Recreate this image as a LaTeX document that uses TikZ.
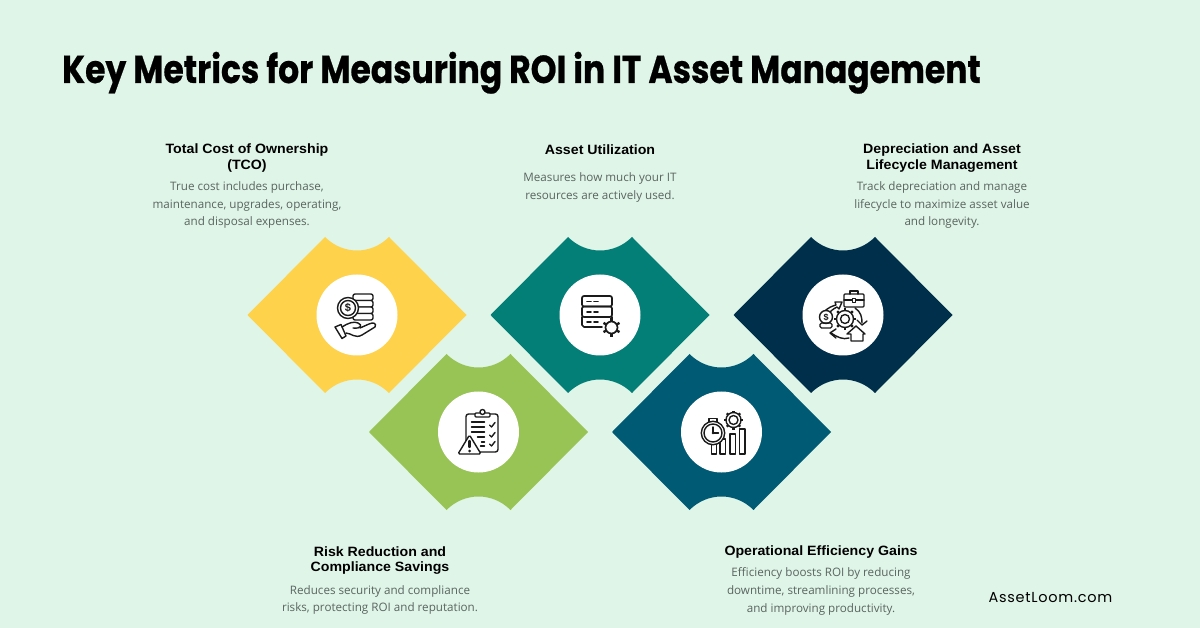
\documentclass[tikz,border=0pt]{standalone}
\usepackage{fontspec}
\setmainfont{Open Sans}
\newfontfamily\titlefont[FakeStretch=0.845,FakeBold=0.6]{Poppins}
\newfontfamily\headfont[FakeStretch=1.05]{Liberation Sans}
\newfontfamily\symfont{Liberation Sans}
\newfontfamily\logofont{Poppins}
\definecolor{bgc}{HTML}{DFF5E8}
\definecolor{ylw}{HTML}{FFD24C}
\definecolor{teal1}{HTML}{047F78}
\definecolor{navy}{HTML}{002F4B}
\definecolor{grn}{HTML}{98C455}
\definecolor{blu}{HTML}{005A73}
\definecolor{bodyc}{HTML}{5A6560}
\definecolor{ink}{HTML}{1A1A1A}
\tikzset{
 x=1pt,y=-1pt,
 heading/.style={font=\headfont\bfseries\fontsize{13.5}{15.2}\selectfont,align=center,text=black,inner sep=0pt},
 body/.style={font=\fontsize{11.65}{17.6}\selectfont,align=center,text=bodyc,inner sep=0pt},
 ic/.style={draw=ink,line width=1.4pt,line cap=round,line join=round,fill=none},
 icf/.style={draw=ink,line width=1.4pt,line cap=round,line join=round,fill=white},
}
\newcommand{\gem}[4]{% name, x, y, colour
 \fill[#4] (#2-109.5,#3) -- (#2-32,#3-78)
   .. controls (#2-14,#3-60) and (#2+14,#3-60) .. (#2+32,#3-78)
   -- (#2+109.5,#3) -- (#2+32,#3+78)
   .. controls (#2+14,#3+60) and (#2-14,#3+60) .. (#2-32,#3+78) -- cycle;
 \node[circle,fill=white,minimum size=81pt,inner sep=0pt] (#1) at (#2,#3) {};
}
\begin{document}
\begin{tikzpicture}
\useasboundingbox (0,0) rectangle (1200,628);
\fill[bgc] (0,0) rectangle (1200,628);
\node[anchor=base west,inner sep=0pt,text=black,font=\titlefont\bfseries\fontsize{39}{44}\selectfont] (title) at (62,83) {Key Metrics for Measuring ROI in IT Asset Management};
\gem{a}{357}{315}{ylw}
\gem{b}{600}{315}{teal1}
\gem{c}{843}{315}{navy}
\gem{d}{478.5}{432}{grn}
\gem{e}{721.5}{432}{blu}
% texts
\node[heading] (h1) at (247,158) {Total Cost of Ownership\\(TCO)};
\node[body] (t1) at (247,205) {True cost includes purchase,\\maintenance, upgrades, operating,\\and disposal expenses.};
\node[heading] (h2) at (600,150) {Asset Utilization};
\node[body] (t2) at (600,187.5) {Measures how much your IT\\resources are actively used.};
\node[heading] (h3) at (942,158) {Depreciation and Asset\\Lifecycle Management};
\node[body] (t3) at (942,205) {Track depreciation and manage\\lifecycle to maximize asset value\\and longevity.};
\node[heading] (h4) at (380,560.5) {Risk Reduction and\\Compliance Savings};
\node[body] (t4) at (380,600) {Reduces security and compliance\\risks, protecting ROI and reputation.};
\node[heading] (h5) at (821,552.5) {Operational Efficiency Gains};
\node[body] (t5) at (821,591.5) {Efficiency boosts ROI by reducing\\downtime, streamlining processes,\\and improving productivity.};
\node[inner sep=0pt,text=black,font=\logofont\fontsize{14.5}{17}\selectfont\addfontfeature{LetterSpace=5}] (logo) at (1050.5,598) {AssetLoom.com};
% icon a: coins + hand
\begin{scope}[shift={(357,315)}]
 \foreach \y in {-21,-14.5,-8,-1.5}{\draw[ic,fill=white,rounded corners=2pt] (-4,\y) -- (16,\y) -- (16,\y+6.5) -- (-4,\y+6.5) -- cycle;}
 \draw[icf] (-9,-7) circle (10.5);
 \draw[ic] (-9,-7) circle (7.5);
 \node[font=\symfont\bfseries\fontsize{11}{11}\selectfont,text=ink,inner sep=0pt] at (-9,-7) {\$};
 \draw[icf] (-22,12) -- (-16,9.5) -- (-11,21) -- (-15,23.5) -- cycle;
 \draw[ic] (-15,12) .. controls (-9,8) and (-3,6) .. (1,8) .. controls (6,10) and (4,14) .. (-4,13);
 \draw[ic] (-11,18) .. controls (-6,18) and (-2,24) .. (5,20) -- (18,12) .. controls (20,8) and (16,7) .. (12,9) -- (3,13);
\end{scope}
% icon b: server + gear
\begin{scope}[shift={(600,315)}]
 \draw[ic,line width=1.7pt,rounded corners=2pt] (-18,-19) rectangle (12,-8.5);
 \draw[ic,line width=1.7pt,rounded corners=2pt] (-18,-8.5) rectangle (12,2);
 \draw[ic,line width=1.7pt] (2,12) -- (-16,12) -- (-18,10) -- (-18,2);
 \foreach \y in {-13.5,-3,7}{\draw[ic,line width=1.7pt] (-13,\y) -- (-9,\y) (-6,\y) -- (-2,\y);}
 \draw[ic,line width=1.7pt] (12,2) -- (12,5);
 \draw[ic,line width=1.7pt] (11.5,12.5) circle (6);
 \foreach \a in {30,90,...,330}{\draw[ic,line width=2.4pt,line cap=butt] (11.5,12.5) ++(\a:6) -- ++(\a:3.2);}
\end{scope}
% icon c: lifecycle
\begin{scope}[shift={(843,315)}]
 \draw[ic,rounded corners=1pt] (1,-21) rectangle (21,-8);
 \draw[ic] (7,-21) -- (7,-24) -- (15,-24) -- (15,-21);
 \draw[ic] (1,-15) -- (21,-15);
 \draw[icf] (9.5,-16.5) rectangle (12.5,-12.5);
 \draw[ic] (-20,-2) .. controls (-15,-8) and (-10,-9) .. (-7,-10) -- (-8,-13) -- (-1,-13) -- (-4,-6) -- (-6,-8) .. controls (-10,-6) and (-12,-4) .. (-13,-3);
 \draw[icf] (-17,2) circle (6.5);
 \node[font=\symfont\bfseries\fontsize{9}{9}\selectfont,text=ink,inner sep=0pt] at (-17,2) {\$};
 \draw[ic,rounded corners=1.5pt] (-23,8) rectangle (-11,13);
 \draw[ic] (2,4) circle (4.5);
 \draw[ic] (2,4) circle (8.5);
 \foreach \a in {0,45,...,315}{\draw[ic,line width=2.2pt,line cap=butt] (2,4) ++(\a:8.5) -- ++(\a:2.5);}
 \draw[ic] (12,-7) .. controls (18,-3) and (19,2) .. (19,8);
 \draw[ic] (14,5) -- (19,10) -- (24,6);
 \draw[icf] (8,26) -- (8,19) -- (4,19) -- (13,11) -- (22,19) -- (20,19) -- (20,26) -- cycle;
 \draw[ic] (6,23) .. controls (0,25) and (-6,22) .. (-12,18);
 \draw[ic] (-7,14) -- (-13,18) -- (-7,23);
\end{scope}
% icon d: clipboard + warning
\begin{scope}[shift={(478.5,432)}]
 \draw[ic,rounded corners=2.5pt] (-12.5,-18) -- (-12.5,20) -- (19.5,20) -- (19.5,-18) -- cycle;
 \draw[icf,rounded corners=1pt] (-3.5,-19) rectangle (11.5,-15);
 \draw[icf] (4,-20) circle (2.5);
 \foreach \y in {-10,-5,0}{\draw[ic] (-7,\y) -- (6,\y);}
 \draw[ic] (-1,5) -- (6,5) (2,14) -- (6,14);
 \draw[ic] (3,10) -- (6,10);
 \foreach \y in {-7,3,12}{\draw[ic] (11,\y) -- (13,\y+2) -- (16.5,\y-2.5);}
 \draw[icf,rounded corners=1.5pt] (-20.5,22) -- (-9,3) -- (2.5,22) -- cycle;
 \draw[ic,line width=2.4pt] (-9,9) -- (-9,15);
 \fill[ink] (-9,19) circle (1.5);
\end{scope}
% icon e: stopwatch + bars + gear
\begin{scope}[shift={(721.5,432)}]
 \draw[ic] (-10,8) -- (-10,22) -- (-5,22) -- (-5,8);
 \draw[ic] (-1.5,7) rectangle (4,22);
 \draw[ic] (8.5,2) rectangle (14,22);
 \draw[ic] (18,-3) rectangle (23.5,22);
 \draw[icf] (-12.5,-13.5) rectangle (-4.5,-10);
 \draw[icf] (-8.5,1) circle (11.7);
 \draw[ic] (-8.5,1) circle (9);
 \draw[ic] (-8.5,-5) -- (-8.5,1) -- (-3,1);
 \fill[ink] (-8.5,1) circle (1.3);
 \draw[ic] (12,-12) circle (4.5);
 \draw[ic] (12,-12) circle (7.5);
 \foreach \a in {0,45,...,315}{\draw[ic,line width=2.2pt,line cap=butt] (12,-12) ++(\a:7.5) -- ++(\a:2);}
\end{scope}
\end{tikzpicture}
\end{document}
